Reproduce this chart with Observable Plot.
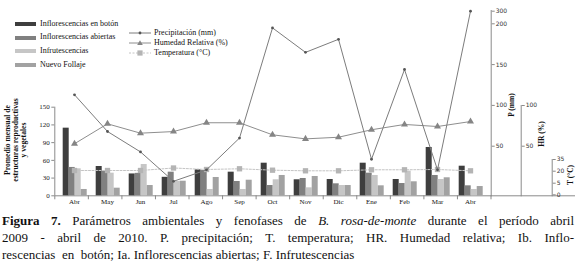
<!DOCTYPE html>
<html><head><meta charset="utf-8">
<script src="https://cdn.jsdelivr.net/npm/d3@7"></script>
<script src="https://cdn.jsdelivr.net/npm/@observablehq/plot@0.6"></script>
<style>
body{margin:0;background:#fff;font-family:"Liberation Serif",serif;color:#111;}
#chart{position:relative;width:578px;height:210px;overflow:hidden;}
#chart .layer{position:absolute;left:0;top:0;}
.lg{position:absolute;font-size:8px;line-height:8px;white-space:nowrap;}
.sw{position:absolute;width:21px;height:4px;}
.rot{position:absolute;white-space:nowrap;transform:translate(-50%,-50%) rotate(-90deg);font-weight:bold;text-align:center;}
#caption{position:absolute;left:2px;top:210px;width:572px;font-size:13px;line-height:17px;padding-top:2px;}
.j{text-align:justify;text-align-last:justify;}
</style></head>
<body>
<div id="chart"></div>
<div id="caption">
<div class="j"><b>Figura 7.</b> Parámetros ambientales y fenofases de <i>B. rosa-de-monte</i> durante el período abril</div>
<div class="j">2009 - abril de 2010. P. precipitación; T. temperatura; HR. Humedad relativa; Ib. Inflo-</div>
<div>rescencias&nbsp; en&nbsp; botón; Ia. Inflorescencias abiertas; F. Infrutescencias</div>
</div>
<script>
// ---- data ----
const months = ["Abr","May","Jun","Jul","Ago","Sep","Oct","Nov","Dic","Ene","Feb","Mar","Abr"];
const seriesNames = ["Inflorescencias en botón","Inflorescencias abiertas","Infrutescencias","Nuevo Follaje"];
const boton    = [114.5,49.6,37,31.3,44,40,55.2,27.1,27.6,55.2,27.6,81.8,50.1];
const abiertas = [48,41.1,38,40,42.8,24.2,17.4,29.3,20.3,38.3,20.8,34.4,16.9];
const infrut   = [45.7,38.3,53,24.5,10.7,10.7,27.1,13.5,17.4,34.4,41.7,27.6,10.7];
const follaje  = [10.7,12.9,17.4,24.7,31,26.4,34.4,32.7,17.4,16.9,23.7,30.5,15.7];
const precip   = [113,68,43,7,21,60,195,165,181,34,144,21,300];
const humedad  = [53,77.5,66,68,78.8,78.8,64,59,61,70.2,76.7,74.2,80.3];
const temperatura = [20.9,20.9,20.9,24.1,22.2,23.1,21.3,20.5,20.5,21.8,21.8,22.2,20.5];
const leftTicks = [0,30,60,90,120,150];
const pTicks = [50,100,150,200,300];
const hrTicks = [50,100];
const tTicks = [0,5,20,35];
const lineNames = ["Precipitación (mm)","Humedad Relativa (%)","Temperatura (°C)"];

// ---- styles / layout ----
const seriesColors = ["#3e3e3e","#808080","#c6c6c6","#a2a2a2"];
const axisGray = "#8a8a8a";
const W = 578, H = 210;
const idx = d3.range(months.length);
const bounds = d3.range(months.length + 1);
const seriesValues = [boton, abiertas, infrut, follaje];
const barData = idx.flatMap(i => seriesNames.map((s, k) => ({i, serie: s, value: seriesValues[k][i]})));
const pData = idx.map(i => ({i, v: precip[i]}));
const hData = idx.map(i => ({i, v: humedad[i]}));
const tData = idx.map(i => ({i, v: temperatura[i]}));
const xRange = [54.3, 490.5];
const xPoint = {type: "point", domain: idx, range: xRange, padding: 0.5, label: null};
// broken axes as in the original figure (P: 200 -> 300 compressed; T: uneven ticks)
const pBreak = v => v > 200 ? 200 + (v - 200) * 0.1544 : v;
const tBreak = v => v <= 5 ? v * 2.32 : v <= 20 ? 11.6 + (v - 5) * 0.8 : 23.6 + (v - 20) * 0.78;
const pTickMap = new Map(pTicks.map(t => [pBreak(t), String(t)]));
const tTickMap = new Map(tTicks.map(t => [tBreak(t), String(t)]));
const chart = document.getElementById("chart");
function add(el){ el.classList.add("layer"); chart.appendChild(el); }
const bg = {background: "transparent", overflow: "visible"};

// left axis, baseline, category boundary ticks
add(Plot.plot({
  width: W, height: H, marginLeft: 54.3, marginRight: 3, marginTop: 106.7, marginBottom: 14.7,
  style: bg,
  x: {domain: [0, months.length], range: xRange, label: null},
  y: {domain: [0, 150], range: [195.3, 106.7], label: null},
  marks: [
    Plot.ruleY([0], {stroke: axisGray}),
    Plot.ruleX([0], {stroke: axisGray}),
    Plot.axisX({ticks: bounds, tickSize: 4, tickFormat: () => "", stroke: axisGray, label: null}),
    Plot.axisY({ticks: leftTicks, tickSize: 3, tickPadding: 2, fontSize: 7, fontFamily: "Liberation Serif", stroke: axisGray, fill: "#222", label: null})
  ]
}));

// grouped bars
add(Plot.plot({
  width: W, height: H, marginLeft: 54.3, marginRight: 87.5, marginTop: 0, marginBottom: 14.7,
  style: bg,
  facet: {data: barData, x: "i", label: null},
  fx: {domain: idx, padding: 0, axis: null, label: null},
  x: {domain: seriesNames, paddingInner: 0, paddingOuter: 0.75, axis: null, label: null},
  y: {domain: [0, 150], range: [195.3, 106.7], axis: null, label: null},
  color: {domain: seriesNames, range: seriesColors},
  marks: [Plot.barY(barData, {x: "serie", y: "value", fill: "serie"})]
}));

// temperature
add(Plot.plot({
  width: W, height: H, marginLeft: 54.3, marginRight: 26.3, marginTop: 159, marginBottom: 14.7,
  style: bg,
  x: {...xPoint, axis: null},
  y: {domain: [0, 35.3], range: [194.3, 159], transform: tBreak, label: null},
  marks: [
    Plot.frame({anchor: "right", stroke: axisGray}),
    Plot.axisY({anchor: "right", ticks: [...tTickMap.keys()], tickFormat: d => tTickMap.get(d), tickSize: 3, tickPadding: 1.5, fontSize: 6, fontFamily: "DejaVu Sans", stroke: axisGray, fill: "#333", label: null}),
    Plot.line(tData, {x: "i", y: "v", stroke: "#c4c4c4", strokeWidth: 1, strokeDasharray: "2,1.5"}),
    Plot.dot(tData, {x: "i", y: "v", symbol: "square", r: 3, fill: "#b4b4b4"})
  ]
}));

// relative humidity
add(Plot.plot({
  width: W, height: H, marginLeft: 54.3, marginRight: 57.3, marginTop: 105, marginBottom: 14.7,
  style: bg,
  x: {...xPoint, axis: null},
  y: {domain: [0, 100], range: [186.4, 105], label: null},
  marks: [
    Plot.frame({anchor: "right", stroke: axisGray}),
    Plot.axisY({anchor: "right", ticks: hrTicks, tickSize: 3, tickPadding: 1.5, fontSize: 6, fontFamily: "DejaVu Sans", stroke: axisGray, fill: "#333", label: null}),
    Plot.line(hData, {x: "i", y: "v", stroke: "#8e8e8e", strokeWidth: 1}),
    Plot.dot(hData, {x: "i", y: "v", symbol: "triangle", r: 2.6, fill: "#858585"})
  ]
}));

// precipitation + category labels
add(Plot.plot({
  width: W, height: H, marginLeft: 54.3, marginRight: 87.3, marginTop: 10, marginBottom: 14.7,
  style: bg,
  x: xPoint,
  y: {domain: [0, 200], range: [186.5, 23.3], transform: pBreak, label: null},
  marks: [
    Plot.frame({anchor: "right", stroke: axisGray}),
    Plot.axisY({anchor: "right", ticks: [...pTickMap.keys()], tickFormat: d => pTickMap.get(d), tickSize: 3, tickPadding: 1.5, fontSize: 6, fontFamily: "DejaVu Sans", stroke: axisGray, fill: "#333", label: null}),
    Plot.axisX({ticks: idx, tickFormat: i => months[i], tickSize: 0, tickPadding: 3, fontSize: 7, fontFamily: "Liberation Serif", fill: "#111", label: null}),
    Plot.line(pData, {x: "i", y: "v", stroke: "#7c7c7c", strokeWidth: 1}),
    Plot.dot(pData, {x: "i", y: "v", r: 1.4, fill: "#555"})
  ]
}));

// ---- legends & titles (HTML text) ----
function el(tag, cls, css, html){ const e = document.createElement(tag); if (cls) e.className = cls; Object.assign(e.style, css); if (html != null) e.innerHTML = html; chart.appendChild(e); return e; }
const barLegY = [24, 37.7, 51, 65];
seriesNames.forEach((s, k) => {
  el("div", "sw", {left: "15px", top: (barLegY[k] - 2) + "px", background: seriesColors[k]});
  el("div", "lg", {left: "40px", top: (barLegY[k] - 4.5) + "px"}, s);
});
const lineLegY = [33.3, 43.3, 53.3];
const symSvg = [
  '<svg width="22" height="8"><line x1="0" y1="4" x2="22" y2="4" stroke="#7c7c7c"/><circle cx="11" cy="4" r="1.4" fill="#555"/></svg>',
  '<svg width="22" height="8"><line x1="0" y1="4" x2="22" y2="4" stroke="#8e8e8e"/><path d="M11,1.2 L13.8,6 L8.2,6 Z" fill="#858585"/></svg>',
  '<svg width="22" height="8"><line x1="0" y1="4" x2="22" y2="4" stroke="#c4c4c4" stroke-dasharray="2,1.5"/><rect x="8.4" y="1.4" width="5.2" height="5.2" fill="#b4b4b4"/></svg>'
];
lineNames.forEach((s, k) => {
  el("div", "", {position: "absolute", left: "129px", top: (lineLegY[k] - 4) + "px", lineHeight: "0"}, symSvg[k]);
  el("div", "lg", {left: "154px", top: (lineLegY[k] - 4.5) + "px"}, s);
});
el("div", "rot", {left: "15.5px", top: "140px", fontSize: "7.6px", lineHeight: "8px"}, "Promedio mensual de<br>estructuras reproductivas<br>y vegetales");
el("div", "rot", {left: "511.7px", top: "105px", fontSize: "7.5px", lineHeight: "8px"}, "P (mm)");
el("div", "rot", {left: "541.7px", top: "134px", fontSize: "7.5px", lineHeight: "8px"}, "HR (%)");
el("div", "rot", {left: "570.7px", top: "175px", fontSize: "7.5px", lineHeight: "8px"}, "T (°C)");
</script>
</body></html>
